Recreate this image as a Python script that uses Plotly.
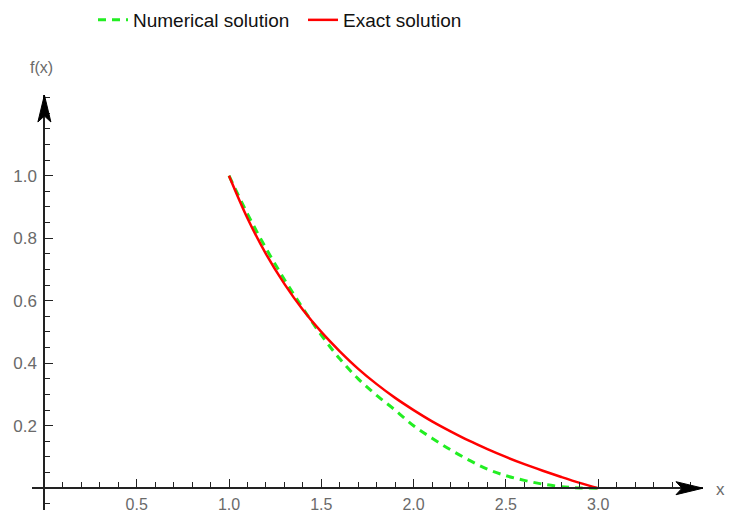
import plotly.graph_objects as go

# ---------------- data ----------------
x_vals = [1.0, 1.1, 1.2, 1.3, 1.4, 1.5, 1.6, 1.7, 1.8, 1.9, 2.0,
          2.1, 2.2, 2.3, 2.4, 2.5, 2.6, 2.7, 2.8, 2.9, 3.0]
exact_vals = [1.000, 0.864, 0.750, 0.654, 0.571, 0.500, 0.438, 0.382, 0.333, 0.289, 0.250,
              0.214, 0.182, 0.152, 0.125, 0.100, 0.077, 0.056, 0.036, 0.017, 0.000]
numerical_vals = [1.000, 0.878, 0.768, 0.668, 0.576, 0.490, 0.414, 0.350, 0.297, 0.250, 0.200,
                  0.160, 0.123, 0.090, 0.061, 0.040, 0.025, 0.013, 0.005, 0.001, 0.000]

x_tickvals = [0.5, 1.0, 1.5, 2.0, 2.5, 3.0]
x_ticktext = ["0.5", "1.0", "1.5", "2.0", "2.5", "3.0"]
y_tickvals = [0.2, 0.4, 0.6, 0.8, 1.0]
y_ticktext = ["0.2", "0.4", "0.6", "0.8", "1.0"]

series_names = ["Numerical solution", "Exact solution"]

# ---------------- layout geometry (pixels) ----------------
W, H = 729, 515
X0_PX, X_UNIT = 44.4, 184.6      # pixel of x=0, pixels per x unit
Y0_PX, Y_UNIT = 488.2, 312.5     # pixel (from top) of y=0, pixels per y unit
X_LEFT_PX, X_TIP_PX = 32, 703
Y_BOTTOM_PX, Y_TIP_PX = 510, 95

def px2x(p):
    return (p - X0_PX) / X_UNIT

def py2y(p):
    return (Y0_PX - p) / Y_UNIT

def pxf(p):
    return p / W

def pyf(p):
    return (H - p) / H

axis_col = "#222222"
label_col = "#6a6a6a"
font_family = "Liberation Sans, Arial, sans-serif"

fig = go.Figure()
fig.add_trace(go.Scatter(
    x=x_vals, y=numerical_vals, mode="lines", name=series_names[0],
    line=dict(color="#22ee22", width=3, dash="8px,6px", shape="spline"),
))
fig.add_trace(go.Scatter(
    x=x_vals, y=exact_vals, mode="lines", name=series_names[1],
    line=dict(color="#ff0000", width=2.5, shape="spline"),
))

# arrowheads (decoration, in paper coordinates)
def path(points):
    return "M " + " L ".join(f"{a:.5f},{b:.5f}" for a, b in points) + " Z"

ax_y = Y0_PX
x_arrow = [(pxf(X_TIP_PX), pyf(ax_y)), (pxf(X_TIP_PX - 27), pyf(ax_y - 6.5)),
           (pxf(X_TIP_PX - 21), pyf(ax_y)), (pxf(X_TIP_PX - 27), pyf(ax_y + 6.5))]
ay_x = X0_PX
y_arrow = [(pxf(ay_x), pyf(Y_TIP_PX)), (pxf(ay_x - 6.5), pyf(Y_TIP_PX + 27)),
           (pxf(ay_x), pyf(Y_TIP_PX + 21)), (pxf(ay_x + 6.5), pyf(Y_TIP_PX + 27))]
shapes = [
    dict(type="path", xref="paper", yref="paper", path=path(x_arrow),
         fillcolor="black", line=dict(color="black", width=1), layer="above"),
    dict(type="path", xref="paper", yref="paper", path=path(y_arrow),
         fillcolor="black", line=dict(color="black", width=1), layer="above"),
]

annotations = [
    dict(text="x", xref="paper", yref="paper", x=pxf(720), y=pyf(489),
         showarrow=False, font=dict(size=17, color=label_col, family=font_family),
         xanchor="center", yanchor="middle"),
    dict(text="f(x)", xref="paper", yref="paper", x=pxf(41), y=pyf(68),
         showarrow=False, font=dict(size=16, color=label_col, family=font_family),
         xanchor="center", yanchor="middle"),
]

fig.update_layout(
    width=W, height=H,
    margin=dict(l=0, r=0, t=0, b=0, pad=0, autoexpand=False),
    paper_bgcolor="white", plot_bgcolor="white",
    font=dict(family=font_family),
    showlegend=True,
    legend=dict(orientation="h", x=pxf(93), xanchor="left", y=pyf(20), yanchor="middle",
                entrywidth=165, entrywidthmode="pixels",
                font=dict(size=19, color="#111111", family=font_family),
                bgcolor="rgba(0,0,0,0)"),
    shapes=shapes,
    annotations=annotations,
    xaxis=dict(
        domain=[pxf(X_LEFT_PX), pxf(X_TIP_PX)],
        range=[px2x(X_LEFT_PX), px2x(X_TIP_PX)],
        anchor="free", position=pyf(Y0_PX), automargin=False,
        showgrid=False, zeroline=False,
        showline=True, linecolor=axis_col, linewidth=2,
        tickmode="array", tickvals=x_tickvals, ticktext=x_ticktext,
        ticks="inside", ticklen=8, tickwidth=1.2, tickcolor=axis_col,
        ticklabelstandoff=2,
        tickfont=dict(size=16, color=label_col, family=font_family),
        minor=dict(ticks="inside", dtick=0.1, tick0=0, ticklen=5, tickwidth=1.2,
                   tickcolor=axis_col, showgrid=False),
        fixedrange=True,
    ),
    yaxis=dict(
        domain=[pyf(Y_BOTTOM_PX), pyf(Y_TIP_PX)],
        range=[py2y(Y_BOTTOM_PX), py2y(Y_TIP_PX)],
        anchor="free", position=pxf(X0_PX), automargin=False,
        showgrid=False, zeroline=False,
        showline=True, linecolor=axis_col, linewidth=2,
        tickmode="array", tickvals=y_tickvals, ticktext=y_ticktext,
        ticks="inside", ticklen=8, tickwidth=1.2, tickcolor=axis_col,
        ticklabelstandoff=3,
        tickfont=dict(size=17, color=label_col, family=font_family),
        minor=dict(ticks="inside", dtick=0.05, tick0=0, ticklen=5, tickwidth=1.2,
                   tickcolor=axis_col, showgrid=False),
        fixedrange=True,
    ),
)

fig.write_html("out.html", config={"displayModeBar": False},
               post_script="document.body.style.margin='0';")
